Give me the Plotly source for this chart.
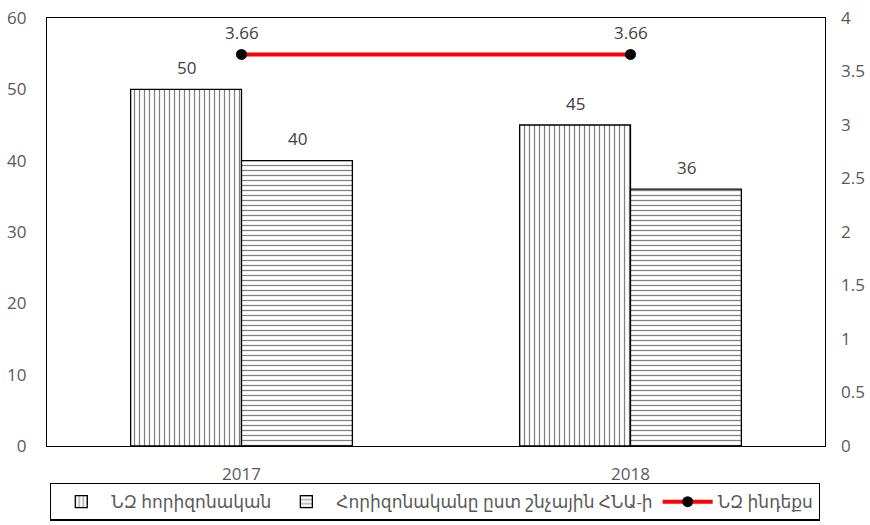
import plotly.graph_objects as go

years = ["2017", "2018"]
nz_horizon = [50, 45]
horizon_by_env = [40, 36]
nz_index = [3.66, 3.66]

names = ["ՆԶ հորիզոնական", "Հորիզոնականը ըստ շնչային ՀՆԱ-ի", "ՆԶ ինդեքս"]

FONT = "Open Sans, DejaVu Sans, sans-serif"
GRAY = "#595959"
LBL = "#404040"
TS = 17

fig = go.Figure()
fig.add_trace(go.Bar(
    x=years, y=nz_horizon, name=names[0],
    marker=dict(color="white", line=dict(color="black", width=1.3),
                pattern=dict(shape="|", size=5, solidity=0.25, fgcolor="black", bgcolor="white")),
))
fig.add_trace(go.Bar(
    x=years, y=horizon_by_env, name=names[1],
    marker=dict(color="white", line=dict(color="black", width=1.3),
                pattern=dict(shape="-", size=5, solidity=0.25, fgcolor="black", bgcolor="white")),
))
fig.add_trace(go.Scatter(
    x=years, y=nz_index, name=names[2], yaxis="y2",
    mode="lines+markers",
    line=dict(color="#ff0000", width=4),
    marker=dict(color="black", size=11),
))

# data labels (category index positions)
half = 55.5
for i, v in enumerate(nz_horizon):
    fig.add_annotation(x=i, y=v, text=str(v), showarrow=False, xshift=-half, yshift=22,
                       font=dict(size=TS, color=LBL, family=FONT))
for i, v in enumerate(horizon_by_env):
    fig.add_annotation(x=i, y=v, text=str(v), showarrow=False, xshift=half, yshift=22,
                       font=dict(size=TS, color=LBL, family=FONT))
for i, v in enumerate(nz_index):
    fig.add_annotation(x=i, y=v, yref="y2", text=f"{v:.2f}", showarrow=False, yshift=22,
                       font=dict(size=TS, color=LBL, family=FONT))

fig.update_layout(
    width=870, height=525,
    margin=dict(l=47, r=45, t=18, b=79, autoexpand=False),
    paper_bgcolor="white", plot_bgcolor="white",
    font=dict(family=FONT, color=GRAY, size=TS),
    barmode="group", bargap=0.43, bargroupgap=0,
    showlegend=True,
    legend=dict(orientation="h", x=0.5, xanchor="center", xref="container",
                y=0.008, yanchor="bottom", yref="container",
                bordercolor="black", borderwidth=1.3, font=dict(size=17, color=GRAY),
                itemwidth=50, traceorder="normal", tracegroupgap=0),
    xaxis=dict(type="category", range=[-0.5, 1.5], showline=True, linecolor="black",
               linewidth=1.3, mirror=True,
               ticks="", tickfont=dict(size=TS, color=GRAY), automargin=False,
               ticklabelstandoff=12),
    yaxis=dict(range=[0, 60], dtick=10, showgrid=False, showline=True, linecolor="black",
               linewidth=1.3, mirror=True, ticks="", tickfont=dict(size=TS, color=GRAY),
               ticklabelstandoff=16, zeroline=False, automargin=False),
    yaxis2=dict(range=[0, 4], dtick=0.5, overlaying="y", side="right", showgrid=False,
                showline=False, ticks="", tickfont=dict(size=TS, color=GRAY),
                ticklabelstandoff=15, zeroline=False, automargin=False),
)

fig.write_html("out.html", config={"displayModeBar": False},
               post_script="document.body.style.margin='0';")
